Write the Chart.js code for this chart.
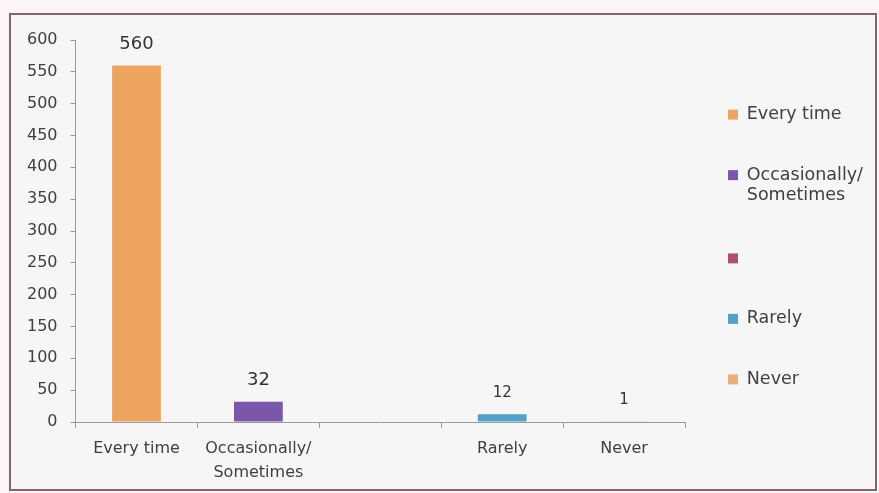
<!DOCTYPE html>
<html>
<head>
<meta charset="utf-8">
<script src="https://cdn.jsdelivr.net/npm/chart.js@4/dist/chart.umd.min.js"></script>
<style>
    body { margin: 0; background: #fcf5f7; }
    #frame {
        position: absolute; left: 9px; top: 13px; width: 864px; height: 474px;
        border: 2px solid #86626e; background: #f6f6f6;
    }
    #bars { position: absolute; left: 0; top: 0; }
</style>
</head>
<body>
<div id="frame"></div>
<canvas id="bars" width="879" height="493"></canvas>
<script>
const categories = ['Every time', ['Occasionally/', 'Sometimes'], '', 'Rarely', 'Never'];
const counts = [560, 32, null, 12, 1];
const yTicks = [0, 50, 100, 150, 200, 250, 300, 350, 400, 450, 500, 550, 600];
const colors = ['#EEA461', '#7A57A8', '#B0506A', '#55A0C8', '#EAAE78'];

const axisGrey = '#9a9a9a';
const textGrey = '#404040';

// value written above each bar
const barValues = {
    id: 'barValues',
    afterDatasetsDraw(chart) {
        const ctx = chart.ctx;
        const meta = chart.getDatasetMeta(0);
        ctx.save();
        ctx.fillStyle = '#333333';
        ctx.textAlign = 'center';
        ctx.textBaseline = 'middle';
        meta.data.forEach((bar, i) => {
            const v = counts[i];
            if (v === null) return;
            const small = v < 20;
            ctx.font = (small ? '15px' : '18px') + ' "DejaVu Sans"';
            ctx.fillText(String(v), bar.x, bar.y - (small ? 21 : 21));
        });
        ctx.restore();
    }
};

const responsesBar = new Chart(document.getElementById('bars'), {
    type: 'bar',
    data: {
        labels: categories,
        datasets: [{
            label: 'Responses',
            data: counts,
            backgroundColor: colors,
            barPercentage: 0.8,
            categoryPercentage: 0.5
        }]
    },
    options: {
        responsive: false,
        animation: false,
        devicePixelRatio: 1,
        layout: { padding: { top: 0, left: 14, right: 6, bottom: -1 } },
        scales: {
            x: {
                grid: { display: true, drawOnChartArea: false, tickLength: 6, color: axisGrey },
                border: { color: axisGrey },
                ticks: {
                    color: textGrey,
                    padding: 9,
                    maxRotation: 0,
                    autoSkip: false,
                    font: { family: 'DejaVu Sans', size: 16, lineHeight: 1.5 }
                }
            },
            y: {
                min: 0,
                max: 600,
                afterBuildTicks(axis) {
                    axis.ticks = yTicks.map(v => ({ value: v }));
                },
                grid: { display: true, drawOnChartArea: false, tickLength: 5, color: axisGrey },
                border: { color: axisGrey },
                ticks: {
                    color: textGrey,
                    padding: 13,
                    font: { family: 'DejaVu Sans', size: 16 }
                }
            }
        },
        plugins: {
            title: {
                display: true,
                text: '',
                fullSize: false,
                padding: { top: 14, bottom: 14 },
                font: { size: 10, lineHeight: 1.2 }
            },
            tooltip: { enabled: false },
            legend: {
                position: 'right',
                labels: {
                    boxWidth: 10,
                    boxHeight: 10,
                    padding: 43,
                    color: textGrey,
                    font: { family: 'DejaVu Sans', size: 17.5, lineHeight: 1.15 },
                    generateLabels(chart) {
                        return chart.data.labels.map((label, i) => ({
                            text: label,
                            fillStyle: colors[i],
                            strokeStyle: colors[i],
                            lineWidth: 0,
                            fontColor: textGrey,
                            hidden: false,
                            index: i
                        }));
                    }
                }
            }
        }
    },
    plugins: [barValues]
});
</script>
</body>
</html>
